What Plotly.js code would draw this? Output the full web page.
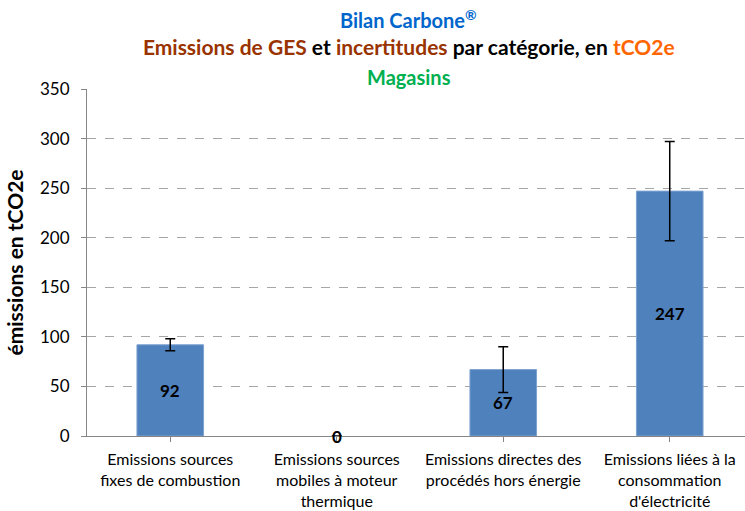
<!DOCTYPE html>
<html>
<head>
<meta charset="utf-8">
<script src="https://cdn.plot.ly/plotly-3.0.1.min.js"></script>
<style>html,body{margin:0;padding:0;overflow:hidden;background:#fff;}</style>
</head>
<body>
<div id="chart" style="width:745px;height:511px;"></div>
<script>
const categories = [
  "Emissions sources<br>fixes de combustion",
  "Emissions sources<br>mobiles à moteur<br>thermique",
  "Emissions directes des<br>procédés hors énergie",
  "Emissions liées à la<br>consommation<br>d'électricité"
];
const emissions = [92, 0, 67, 247];
const uncertainty = [6, 0, 23, 50];
const yTicks = [0, 50, 100, 150, 200, 250, 300, 350];

const FONT = "Lato, 'Open Sans', sans-serif";

const trace = {
  type: "bar",
  x: [0, 1, 2, 3],
  y: emissions,
  width: 0.4,
  marker: {
    color: "#4F81BD",
    line: { color: "#7EA3D1", width: emissions.map(v => (v > 0 ? 1 : 0)) }
  },
  error_y: {
    type: "data",
    array: uncertainty,
    visible: true,
    color: "#000000",
    thickness: 1.5,
    width: 5
  },
  hoverinfo: "skip"
};

const annotations = emissions.map((v, i) => ({
  x: i, y: v / 2, xref: "x", yref: "y",
  text: "<b>" + v + "</b>", showarrow: false,
  yanchor: "middle",
  font: { family: FONT, size: 17, color: "#000" }
}));

annotations.push({
  xref: "paper", yref: "paper", x: 0.489, y: (436 - 19) / 347,
  yanchor: "middle", showarrow: false,
  text: "<b>Bilan Carbone<sup>®</sup></b>",
  font: { family: FONT, size: 20, color: "#0066CC" }
});
annotations.push({
  xref: "paper", yref: "paper", x: 0.489, y: (436 - 77) / 347,
  yanchor: "middle", showarrow: false,
  text: "<b>Magasins</b>",
  font: { family: FONT, size: 20, color: "#00B050" }
});

const layout = {
  width: 745,
  height: 511,
  margin: { l: 87, r: 0, t: 89, b: 75 },
  paper_bgcolor: "#fff",
  plot_bgcolor: "#fff",
  showlegend: false,
  title: {
    text: "<b><span style='color:#993300'>Emissions de GES</span> et <span style='color:#993300'>incertitudes</span> par catégorie, en <span style='color:#FF6600'>tCO2e</span></b>",
    font: { family: FONT, size: 21, color: "#000" },
    xref: "paper", x: 0.489, xanchor: "center",
    yref: "container", y: 1 - 48 / 511, yanchor: "middle"
  },
  xaxis: {
    range: [-0.5, 3.452],
    tickmode: "array",
    tickvals: [0, 1, 2, 3],
    ticktext: categories,
    tickson: "boundaries",
    ticks: "outside",
    ticklen: 5,
    tickcolor: "#868686",
    ticklabelstandoff: 4,
    showline: true,
    linecolor: "#868686",
    linewidth: 1,
    showgrid: false,
    zeroline: false,
    tickfont: { family: FONT, size: 16, color: "#000" },
    fixedrange: true
  },
  yaxis: {
    range: [0, 350],
    tickmode: "array",
    tickvals: yTicks,
    ticks: "outside",
    ticklen: 5,
    tickcolor: "#868686",
    ticklabelstandoff: 8,
    showline: true,
    linecolor: "#868686",
    linewidth: 1,
    showgrid: true,
    gridcolor: "#A6A6A6",
    griddash: "dash",
    gridwidth: 1,
    zeroline: false,
    tickfont: { family: FONT, size: 17, color: "#000" },
    title: {
      text: "<b>émissions en tCO2e</b>",
      font: { family: FONT, size: 21, color: "#000" },
      standoff: 10
    },
    fixedrange: true
  },
  annotations: annotations
};

Plotly.newPlot("chart", [trace], layout, { displayModeBar: false, staticPlot: true });
</script>
</body>
</html>
